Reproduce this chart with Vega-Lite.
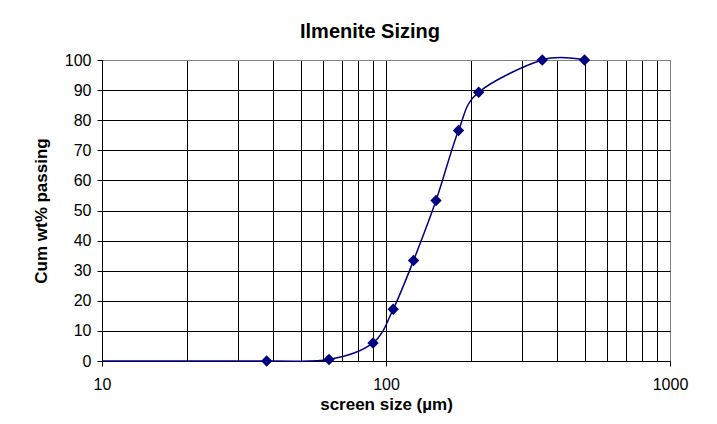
{
  "$schema": "https://vega.github.io/schema/vega-lite/v6.json",
  "width": 568,
  "height": 301,
  "autosize": {"type": "none"},
  "padding": {"left": 102, "top": 60, "right": 47, "bottom": 63},
  "background": "white",
  "title": {
    "text": "Ilmenite Sizing",
    "frame": "group",
    "anchor": "middle",
    "dx": -16,
    "offset": 10,
    "font": "Liberation Sans",
    "fontSize": 20,
    "fontWeight": "bold",
    "color": "black"
  },
  "config": {
    "view": {"stroke": "#808080", "strokeWidth": 1},
    "axis": {
      "labelFont": "Liberation Sans",
      "labelFontSize": 16,
      "labelColor": "black",
      "titleFont": "Liberation Sans",
      "titleFontSize": 17,
      "titleFontWeight": "bold",
      "titleColor": "black",
      "domainColor": "black",
      "tickColor": "black",
      "gridColor": "black",
      "gridOpacity": 1,
      "gridWidth": 1,
      "tickWidth": 1,
      "domainWidth": 1,
      "labelOverlap": false,
      "labelFlush": false
    }
  },
  "data": {
    "values": [
      {"size": 10, "pct": 0, "marker": false},
      {"size": 38, "pct": 0, "marker": true},
      {"size": 63, "pct": 0.5, "marker": true},
      {"size": 90, "pct": 6, "marker": true},
      {"size": 106, "pct": 17.2, "marker": true},
      {"size": 125, "pct": 33.4, "marker": true},
      {"size": 150, "pct": 53.3, "marker": true},
      {"size": 180, "pct": 76.6, "marker": true},
      {"size": 212, "pct": 89.3, "marker": true},
      {"size": 355, "pct": 100, "marker": true},
      {"size": 500, "pct": 100, "marker": true}
    ]
  },
  "encoding": {
    "x": {
      "field": "size",
      "type": "quantitative",
      "scale": {"type": "log", "domain": [10, 1000], "nice": false},
      "axis": {
        "title": "screen size (µm)",
        "values": [10, 20, 30, 40, 50, 60, 70, 80, 90, 100, 200, 300, 400, 500, 600, 700, 800, 900, 1000],
        "format": "d",
        "labelExpr": "datum.value == 10 || datum.value == 100 || datum.value == 1000 ? datum.label : ''",
        "tickSize": 5,
        "tickOpacity": {"condition": {"test": "datum.value == 10 || datum.value == 100 || datum.value == 1000", "value": 1}, "value": 0},
        "gridColor": {"condition": {"test": "datum.value == 1000", "value": "#808080"}, "value": "black"},
        "labelPadding": 10,
        "titlePadding": 4
      }
    },
    "y": {
      "field": "pct",
      "type": "quantitative",
      "scale": {"domain": [0, 100], "nice": false},
      "axis": {
        "title": "Cum wt% passing",
        "values": [0, 10, 20, 30, 40, 50, 60, 70, 80, 90, 100],
        "tickSize": 5,
        "labelPadding": 6,
        "titlePadding": 14,
        "gridColor": {"condition": {"test": "datum.value == 100", "value": "#808080"}, "value": "black"}
      }
    }
  },
  "layer": [
    {
      "mark": {"type": "line", "interpolate": "cardinal", "color": "#000080", "strokeWidth": 1.5}
    },
    {
      "transform": [{"filter": "datum.marker"}],
      "mark": {"type": "point", "shape": "diamond", "filled": true, "size": 130, "color": "#000080", "opacity": 1}
    }
  ]
}
